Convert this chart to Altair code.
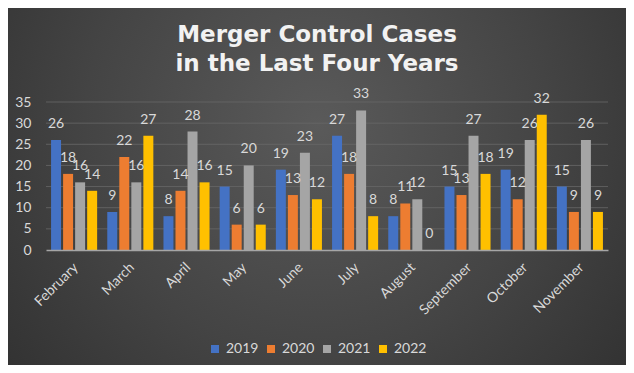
import altair as alt
import pandas as pd

months = ["February", "March", "April", "May", "June", "July", "August",
          "September", "October", "November"]
years = ["2019", "2020", "2021", "2022"]
v2019 = [26, 9, 8, 15, 19, 27, 8, 15, 19, 15]
v2020 = [18, 22, 14, 6, 13, 18, 11, 13, 12, 9]
v2021 = [16, 16, 28, 20, 23, 33, 12, 27, 26, 26]
v2022 = [14, 27, 16, 6, 12, 8, 0, 18, 32, 9]
colors = ["#4472C4", "#ED7D31", "#A5A5A5", "#FFC000"]
y_ticks = [0, 5, 10, 15, 20, 25, 30, 35]

rows = []
for yr, vals in zip(years, [v2019, v2020, v2021, v2022]):
    for m, v in zip(months, vals):
        rows.append({"month": m, "year": yr, "value": v})
df = pd.DataFrame(rows)
grid_df = pd.DataFrame({"tick": y_ticks[1:]})

W, H = 562, 148
PL, PT, PR, PB = 38, 94, 18, 115
FONT = "Lato"
LABEL = "#d9d9d9"

bg = alt.Chart(alt.Data(values=[{}])).mark_rect(
    fill=alt.RadialGradient(
        gradient="radial",
        stops=[alt.GradientStop(color="#5a5a5a", offset=0),
               alt.GradientStop(color="#444444", offset=0.5),
               alt.GradientStop(color="#2b2b2b", offset=1)],
        x1=0.5, y1=0.4, r1=0, x2=0.5, y2=0.4, r2=0.75),
).encode(
    x=alt.value(-PL), x2=alt.value(W + PR),
    y=alt.value(-PT), y2=alt.value(H + PB),
)

y_scale = alt.Scale(domain=[0, 35], nice=False)
x_scale = alt.Scale(paddingInner=0.18, paddingOuter=0.09)
y_axis = alt.Axis(title=None, values=y_ticks, domain=False, ticks=False,
                  labelPadding=15, labelFontSize=14, labelColor=LABEL,
                  labelFont=FONT, grid=False, zindex=1,
                  labelOverlap=False, labelFlush=False)
x_axis = alt.Axis(title=None, labelAngle=-45, labelFontSize=14,
                  labelColor=LABEL, labelFont=FONT, ticks=False,
                  domainColor="#a6a6a6", domainWidth=1.5,
                  labelPadding=10, labelOffset=-3, grid=False, zindex=1)

grid = alt.Chart(grid_df).mark_rule(color="#686868", strokeWidth=0.8).encode(
    y=alt.Y("tick:Q", scale=y_scale, axis=y_axis),
    x=alt.value(0), x2=alt.value(W),
)

x_enc = alt.X("month:N", sort=months, scale=x_scale, axis=x_axis)
xo_enc = alt.XOffset("year:N", sort=years, scale=alt.Scale(paddingInner=0.17))
y_enc = alt.Y("value:Q", scale=y_scale, axis=y_axis)

bars = alt.Chart(df).mark_bar().encode(
    x=x_enc, xOffset=xo_enc, y=y_enc,
    color=alt.Color("year:N", sort=years,
                    scale=alt.Scale(domain=years, range=colors),
                    legend=alt.Legend(title=None, orient="none", direction="horizontal",
                                      legendX=162, legendY=240, symbolType="square",
                                      symbolSize=64, symbolStrokeWidth=0,
                                      labelFontSize=14, labelColor=LABEL,
                                      labelFont=FONT, columnPadding=5,
                                      labelOffset=4, padding=0)),
)

labels = alt.Chart(df).mark_text(
    baseline="alphabetic", dy=-12, fontSize=14, color=LABEL, font=FONT
).encode(
    x=x_enc, xOffset=xo_enc, y=y_enc, text="value:Q",
)

chart = alt.layer(bg, grid, bars, labels).properties(
    width=W, height=H,
    title=alt.TitleParams(["Merger Control Cases", "in the Last Four Years"],
                          anchor="middle", frame="bounds", font="DejaVu Sans",
                          fontSize=23, fontWeight="bold", color="#f2f2f2",
                          lineHeight=29, baseline="alphabetic", offset=-86),
    autosize=alt.AutoSizeParams(type="none"),
    padding={"left": PL, "top": PT, "right": PR, "bottom": PB},
).configure(background="#333333").configure_view(stroke=None)

chart.save("out.html", embed_options={"renderer": "svg", "actions": False})
